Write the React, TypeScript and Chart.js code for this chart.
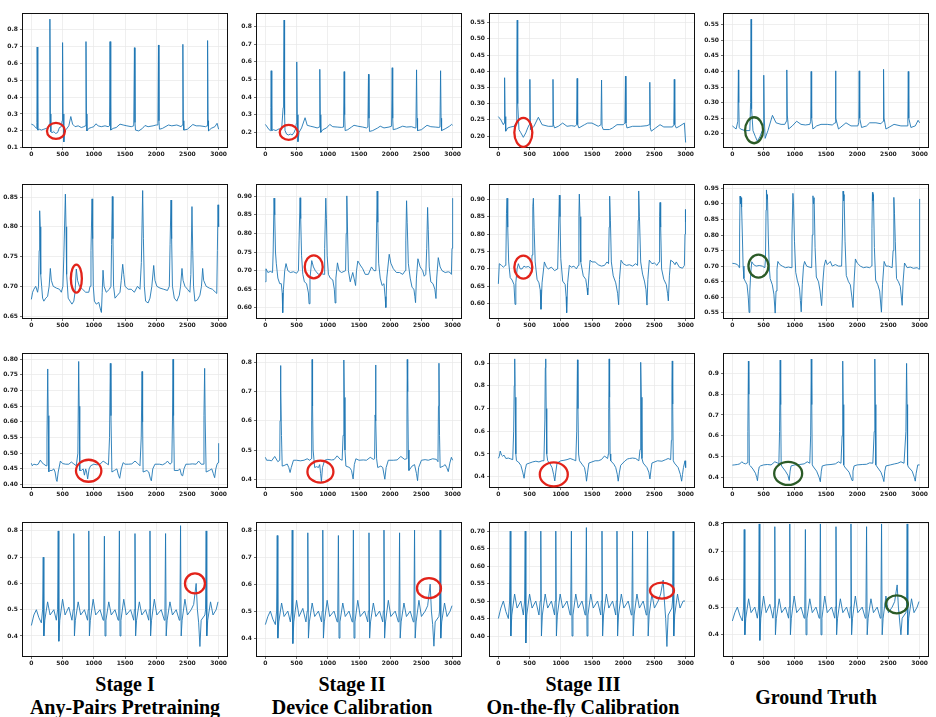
import React, { useEffect, useRef } from 'react';
import { Chart, registerables } from 'chart.js';
Chart.register(...registerables);

// ---------- tick labels ----------
const X_TICKS = ['0', '500', '1000', '1500', '2000', '2500', '3000'];
const YT_R1C1 = ['0.1', '0.2', '0.3', '0.4', '0.5', '0.6', '0.7', '0.8'];
const YT_R1C2 = ['0.2', '0.3', '0.4', '0.5', '0.6', '0.7', '0.8'];
const YT_R1C3 = ['0.20', '0.25', '0.30', '0.35', '0.40', '0.45', '0.50', '0.55'];
const YT_R1C4 = ['0.20', '0.25', '0.30', '0.35', '0.40', '0.45', '0.50', '0.55'];
const YT_R2C1 = ['0.65', '0.70', '0.75', '0.80', '0.85'];
const YT_R2C2 = ['0.60', '0.65', '0.70', '0.75', '0.80', '0.85', '0.90'];
const YT_R2C3 = ['0.60', '0.65', '0.70', '0.75', '0.80', '0.85', '0.90'];
const YT_R2C4 = ['0.55', '0.60', '0.65', '0.70', '0.75', '0.80', '0.85', '0.90', '0.95'];
const YT_R3C1 = ['0.40', '0.45', '0.50', '0.55', '0.60', '0.65', '0.70', '0.75', '0.80'];
const YT_R3C2 = ['0.4', '0.5', '0.6', '0.7', '0.8'];
const YT_R3C3 = ['0.4', '0.5', '0.6', '0.7', '0.8', '0.9'];
const YT_R3C4 = ['0.4', '0.5', '0.6', '0.7', '0.8', '0.9'];
const YT_R4C1 = ['0.4', '0.5', '0.6', '0.7', '0.8'];
const YT_R4C2 = ['0.4', '0.5', '0.6', '0.7', '0.8'];
const YT_R4C3 = ['0.40', '0.45', '0.50', '0.55', '0.60', '0.65', '0.70'];
const YT_R4C4 = ['0.4', '0.5', '0.6', '0.7', '0.8'];

// ---------- y ranges [min, max] ----------
const Y_RANGE = [
  [0.099, 0.897], [0.111, 0.878], [0.163, 0.58], [0.154, 0.588],
  [0.645, 0.872], [0.570, 0.933], [0.556, 0.944], [0.530, 0.964],
  [0.389, 0.82], [0.370, 0.832], [0.350, 0.945], [0.349, 0.998],
  [0.32, 0.834], [0.33, 0.83], [0.34, 0.726], [0.32, 0.807],
];

// ---------- row 1 ----------
const R1C1_X = [0,30,60,80,88,93,100,106,130,160,200,240,270,288,297,305,312,330,360,390,420,450,480,493,500,508,520,535,560,600,632,660,700,750,800,840,865,875,883,890,920,960,1000,1034,1070,1120,1180,1230,1252,1260,1268,1275,1310,1360,1420,1470,1530,1600,1640,1651,1660,1668,1720,1780,1820,1870,1950,2000,2027,2036,2044,2052,2100,2196,2250,2330,2400,2418,2427,2435,2442,2500,2587,2640,2700,2790,2814,2823,2831,2838,2880,2940,2975,3000];
const R1C1_Y = [0.24,0.235,0.225,0.215,0.25,0.696,0.30,0.205,0.21,0.205,0.21,0.215,0.215,0.24,0.861,0.30,0.195,0.19,0.195,0.185,0.19,0.22,0.225,0.26,0.722,0.30,0.135,0.20,0.21,0.23,0.285,0.24,0.225,0.23,0.22,0.225,0.23,0.728,0.30,0.20,0.215,0.22,0.225,0.242,0.23,0.225,0.23,0.225,0.23,0.728,0.30,0.205,0.215,0.22,0.24,0.235,0.23,0.225,0.23,0.692,0.25,0.205,0.20,0.215,0.232,0.225,0.23,0.235,0.235,0.708,0.26,0.21,0.215,0.235,0.23,0.235,0.225,0.235,0.712,0.26,0.205,0.21,0.238,0.23,0.23,0.225,0.23,0.734,0.26,0.20,0.215,0.225,0.245,0.21];

const R1C2_X = [0,30,60,80,88,93,100,106,130,170,220,260,285,292,300,308,315,340,370,400,430,460,485,495,503,511,522,540,580,636,670,720,780,830,862,872,880,888,920,980,1032,1080,1150,1220,1252,1262,1270,1278,1320,1380,1420,1480,1560,1620,1642,1652,1660,1668,1720,1800,1840,1900,1980,2022,2032,2040,2048,2100,2200,2260,2340,2400,2412,2422,2430,2438,2500,2590,2650,2720,2780,2797,2807,2815,2823,2880,2950,2985,3000];
const R1C2_Y = [0.245,0.23,0.215,0.21,0.34,0.55,0.30,0.21,0.215,0.21,0.22,0.215,0.34,0.50,0.838,0.30,0.21,0.19,0.185,0.19,0.185,0.20,0.22,0.25,0.60,0.30,0.147,0.20,0.225,0.283,0.24,0.235,0.23,0.225,0.23,0.558,0.30,0.20,0.215,0.225,0.245,0.232,0.23,0.228,0.23,0.545,0.30,0.21,0.215,0.23,0.24,0.235,0.23,0.225,0.23,0.53,0.28,0.205,0.21,0.225,0.235,0.225,0.23,0.235,0.567,0.28,0.215,0.22,0.235,0.23,0.232,0.225,0.23,0.555,0.28,0.21,0.215,0.24,0.232,0.23,0.228,0.23,0.55,0.28,0.21,0.22,0.235,0.245,0.24];

const R1C3_X = [0,40,80,92,100,108,118,150,200,250,285,295,302,310,330,360,400,440,470,495,505,512,520,570,641,700,800,865,875,883,900,960,1030,1100,1170,1230,1252,1262,1270,1290,1380,1430,1500,1600,1644,1653,1661,1680,1780,1830,1900,2000,2027,2036,2044,2060,2150,2280,2380,2417,2426,2434,2450,2520,2590,2650,2790,2810,2818,2826,2850,2900,2980,3000];
const R1C3_Y = [0.26,0.25,0.235,0.24,0.38,0.26,0.215,0.225,0.228,0.23,0.24,0.40,0.558,0.30,0.22,0.21,0.196,0.21,0.225,0.235,0.375,0.24,0.22,0.23,0.258,0.235,0.23,0.23,0.375,0.235,0.225,0.23,0.24,0.23,0.232,0.23,0.235,0.378,0.235,0.225,0.235,0.24,0.24,0.23,0.235,0.373,0.23,0.22,0.22,0.225,0.235,0.235,0.24,0.385,0.24,0.225,0.23,0.23,0.232,0.235,0.366,0.225,0.215,0.225,0.235,0.228,0.228,0.235,0.375,0.235,0.225,0.23,0.24,0.18];

const R1C4_X = [0,30,60,88,97,102,110,130,200,280,292,300,308,330,370,400,440,480,495,503,511,525,570,642,700,780,840,865,872,880,900,960,1030,1100,1170,1240,1255,1262,1270,1290,1350,1420,1520,1600,1645,1652,1660,1700,1820,1900,2010,2025,2032,2040,2070,2150,2200,2300,2380,2415,2422,2430,2460,2590,2700,2800,2811,2818,2826,2860,2930,2975,3000];
const R1C4_Y = [0.225,0.22,0.215,0.24,0.405,0.30,0.22,0.215,0.21,0.21,0.30,0.568,0.28,0.21,0.19,0.176,0.19,0.21,0.23,0.388,0.25,0.185,0.21,0.259,0.235,0.23,0.23,0.24,0.405,0.26,0.215,0.225,0.24,0.23,0.228,0.23,0.24,0.40,0.25,0.215,0.225,0.23,0.23,0.228,0.235,0.402,0.25,0.215,0.235,0.225,0.225,0.235,0.402,0.25,0.22,0.225,0.235,0.235,0.232,0.24,0.407,0.25,0.215,0.23,0.225,0.225,0.232,0.40,0.25,0.22,0.225,0.243,0.235];

// ---------- row 2 ----------
const R2C1_X = [0,20,40,70,100,115,125,133,142,150,165,180,200,230,260,285,304,320,350,400,450,480,505,520,545,555,565,590,620,650,680,700,720,740,770,820,870,920,940,955,972,982,992,1010,1040,1080,1110,1122,1135,1148,1165,1200,1250,1275,1285,1297,1307,1317,1340,1380,1420,1440,1463,1480,1500,1550,1600,1650,1700,1740,1762,1783,1795,1810,1830,1870,1900,1930,1960,1980,2010,2060,2120,2180,2210,2222,2237,2247,2260,2290,2330,2370,2390,2413,2430,2460,2500,2540,2555,2573,2585,2598,2620,2660,2700,2725,2744,2760,2800,2850,2900,2950,2970,2980,2990,3000];
const R2C1_Y = [0.678,0.69,0.695,0.70,0.69,0.70,0.76,0.827,0.80,0.72,0.70,0.68,0.675,0.68,0.683,0.70,0.73,0.71,0.70,0.697,0.695,0.69,0.70,0.75,0.855,0.80,0.72,0.68,0.675,0.67,0.675,0.69,0.729,0.71,0.70,0.695,0.69,0.69,0.70,0.76,0.847,0.78,0.70,0.675,0.67,0.673,0.66,0.656,0.69,0.727,0.70,0.69,0.695,0.70,0.77,0.851,0.78,0.70,0.68,0.685,0.69,0.71,0.737,0.72,0.70,0.695,0.695,0.69,0.70,0.695,0.74,0.861,0.78,0.70,0.675,0.672,0.68,0.70,0.735,0.71,0.70,0.697,0.695,0.693,0.70,0.77,0.845,0.78,0.70,0.68,0.675,0.685,0.70,0.73,0.71,0.70,0.695,0.69,0.72,0.834,0.76,0.70,0.675,0.677,0.685,0.70,0.73,0.71,0.70,0.697,0.695,0.69,0.688,0.76,0.837,0.80];

const R2C2_X = [0,10,40,80,115,125,139,150,162,175,200,230,255,270,278,290,310,331,360,400,450,500,530,540,556,566,580,600,625,660,690,700,715,743,770,800,850,900,940,950,968,978,990,1010,1040,1080,1105,1118,1130,1155,1180,1220,1260,1285,1295,1305,1315,1330,1360,1400,1420,1445,1460,1481,1520,1560,1600,1650,1700,1740,1770,1780,1791,1801,1815,1840,1870,1900,1918,1930,1945,1984,2010,2050,2100,2150,2200,2240,2250,2262,2272,2290,2320,2350,2380,2395,2406,2420,2444,2480,2520,2545,2570,2585,2599,2610,2625,2650,2685,2715,2733,2745,2770,2800,2830,2880,2930,2960,2980,2990,3000];
const R2C2_Y = [0.67,0.705,0.695,0.698,0.695,0.75,0.895,0.85,0.75,0.72,0.68,0.665,0.665,0.64,0.587,0.65,0.70,0.719,0.70,0.695,0.697,0.693,0.70,0.78,0.896,0.84,0.74,0.69,0.67,0.665,0.64,0.611,0.68,0.727,0.71,0.70,0.69,0.692,0.69,0.76,0.895,0.84,0.74,0.69,0.68,0.675,0.65,0.613,0.68,0.721,0.70,0.695,0.698,0.70,0.80,0.901,0.82,0.70,0.67,0.695,0.68,0.66,0.70,0.726,0.715,0.705,0.69,0.69,0.71,0.70,0.70,0.80,0.914,0.83,0.72,0.68,0.66,0.665,0.63,0.601,0.68,0.744,0.72,0.705,0.695,0.695,0.69,0.70,0.78,0.888,0.83,0.72,0.68,0.655,0.65,0.63,0.614,0.68,0.732,0.71,0.70,0.685,0.69,0.76,0.87,0.81,0.71,0.67,0.665,0.65,0.625,0.68,0.735,0.71,0.70,0.695,0.697,0.695,0.69,0.76,0.895];

const R2C3_X = [0,15,50,80,110,120,130,139,150,165,190,220,250,267,280,300,320,350,380,410,440,480,530,540,552,561,572,590,620,650,670,683,700,737,770,800,850,900,950,960,977,987,1000,1030,1070,1085,1094,1110,1137,1170,1210,1250,1280,1290,1297,1308,1320,1360,1400,1420,1431,1450,1468,1500,1550,1600,1650,1700,1740,1765,1775,1783,1795,1810,1840,1880,1910,1927,1940,1965,2000,2050,2100,2150,2200,2230,2240,2248,2260,2280,2310,2340,2365,2381,2395,2418,2460,2500,2540,2575,2583,2590,2600,2615,2650,2690,2710,2723,2740,2760,2800,2830,2850,2900,2950,2980,2990,2995,3000];
const R2C3_Y = [0.657,0.715,0.71,0.705,0.71,0.72,0.86,0.903,0.82,0.72,0.675,0.668,0.655,0.598,0.66,0.70,0.715,0.70,0.70,0.708,0.705,0.707,0.70,0.74,0.88,0.903,0.82,0.72,0.67,0.66,0.64,0.584,0.66,0.72,0.705,0.70,0.705,0.695,0.70,0.78,0.912,0.85,0.73,0.665,0.655,0.62,0.574,0.66,0.71,0.705,0.708,0.70,0.71,0.85,0.915,0.85,0.72,0.68,0.67,0.645,0.625,0.68,0.725,0.72,0.72,0.712,0.708,0.71,0.72,0.715,0.82,0.909,0.84,0.72,0.68,0.66,0.63,0.597,0.67,0.725,0.715,0.71,0.712,0.708,0.715,0.71,0.84,0.924,0.85,0.72,0.685,0.665,0.64,0.596,0.67,0.725,0.715,0.717,0.71,0.72,0.85,0.891,0.82,0.70,0.67,0.655,0.63,0.608,0.68,0.725,0.72,0.712,0.72,0.705,0.702,0.71,0.80,0.871,0.835];

const R2C4_X = [0,40,80,100,110,116,123,132,140,148,160,172,185,210,235,255,268,280,295,311,340,380,430,480,520,530,540,546,555,562,575,590,605,640,665,686,700,715,729,760,800,850,900,940,955,970,980,995,1015,1040,1075,1090,1103,1120,1140,1157,1190,1230,1270,1280,1291,1300,1310,1325,1345,1380,1405,1430,1450,1470,1494,1520,1569,1600,1650,1700,1750,1762,1773,1782,1790,1805,1825,1860,1890,1915,1933,1950,1971,2000,2050,2100,2150,2200,2230,2236,2244,2252,2260,2275,2295,2330,2360,2388,2405,2431,2460,2500,2560,2575,2587,2597,2610,2630,2660,2690,2720,2735,2758,2800,2850,2900,2960,2990,3000];
const R2C4_Y = [0.709,0.708,0.705,0.70,0.695,0.80,0.925,0.90,0.92,0.89,0.80,0.70,0.66,0.65,0.64,0.60,0.551,0.62,0.68,0.714,0.705,0.70,0.702,0.70,0.695,0.72,0.88,0.945,0.915,0.93,0.80,0.70,0.66,0.64,0.61,0.549,0.62,0.69,0.715,0.705,0.70,0.695,0.697,0.695,0.80,0.934,0.90,0.78,0.68,0.655,0.63,0.59,0.553,0.64,0.70,0.715,0.70,0.697,0.695,0.80,0.926,0.90,0.92,0.76,0.665,0.65,0.62,0.573,0.65,0.70,0.72,0.705,0.715,0.70,0.705,0.70,0.70,0.80,0.941,0.91,0.93,0.78,0.67,0.65,0.64,0.60,0.567,0.65,0.723,0.71,0.70,0.695,0.697,0.695,0.70,0.82,0.937,0.91,0.93,0.76,0.655,0.64,0.62,0.552,0.64,0.715,0.70,0.70,0.695,0.75,0.921,0.87,0.78,0.66,0.65,0.635,0.574,0.65,0.71,0.695,0.697,0.693,0.695,0.69,0.916];

// ---------- row 3 ----------
const R3C1_X = [0,15,40,80,110,144,170,200,235,250,262,270,280,300,330,360,380,400,411,430,465,500,550,600,640,680,720,745,758,766,775,800,830,850,870,885,902,925,950,1000,1050,1100,1150,1200,1235,1252,1265,1275,1290,1330,1370,1395,1415,1440,1470,1500,1560,1610,1660,1700,1740,1760,1773,1782,1790,1850,1880,1905,1922,1945,1980,2050,2100,2150,2180,2220,2250,2260,2269,2278,2290,2350,2380,2405,2424,2445,2475,2530,2580,2640,2680,2720,2755,2765,2776,2785,2800,2850,2890,2915,2936,2955,2975,2990,3000];
const R3C1_Y = [0.468,0.46,0.465,0.463,0.465,0.478,0.47,0.465,0.46,0.55,0.769,0.62,0.441,0.445,0.445,0.45,0.44,0.415,0.41,0.44,0.475,0.467,0.465,0.465,0.472,0.466,0.46,0.50,0.793,0.65,0.445,0.445,0.45,0.43,0.45,0.44,0.418,0.45,0.46,0.465,0.463,0.465,0.475,0.468,0.463,0.55,0.787,0.62,0.44,0.445,0.45,0.43,0.42,0.45,0.47,0.465,0.465,0.466,0.475,0.468,0.46,0.55,0.761,0.60,0.44,0.445,0.44,0.42,0.412,0.45,0.465,0.465,0.463,0.468,0.475,0.465,0.47,0.60,0.80,0.62,0.445,0.445,0.45,0.43,0.428,0.45,0.465,0.465,0.466,0.465,0.475,0.465,0.465,0.62,0.771,0.60,0.44,0.445,0.45,0.435,0.422,0.45,0.465,0.47,0.532];

const R3C2_X = [0,20,60,100,150,200,230,235,241,250,258,270,300,330,350,375,396,415,450,500,560,620,670,710,735,742,749,756,765,790,820,850,870,885,898,915,950,1000,1060,1100,1150,1200,1230,1245,1257,1265,1275,1290,1350,1380,1406,1425,1450,1500,1570,1620,1680,1730,1750,1758,1765,1772,1782,1800,1850,1880,1914,1935,1970,2050,2110,2170,2230,2262,2268,2273,2280,2290,2300,2350,2390,2420,2438,2455,2500,2560,2610,2680,2740,2765,2773,2781,2790,2800,2850,2880,2905,2930,2955,2980,3000];
const R3C2_Y = [0.475,0.465,0.465,0.463,0.478,0.46,0.465,0.60,0.789,0.70,0.55,0.445,0.447,0.45,0.452,0.44,0.423,0.44,0.465,0.465,0.463,0.465,0.47,0.465,0.47,0.60,0.81,0.65,0.50,0.44,0.443,0.44,0.45,0.42,0.392,0.44,0.465,0.468,0.466,0.467,0.48,0.468,0.465,0.55,0.808,0.68,0.50,0.445,0.44,0.43,0.401,0.45,0.47,0.465,0.466,0.465,0.475,0.468,0.47,0.62,0.791,0.60,0.47,0.44,0.445,0.44,0.40,0.44,0.465,0.465,0.466,0.478,0.468,0.47,0.62,0.81,0.70,0.50,0.43,0.445,0.45,0.42,0.395,0.44,0.465,0.467,0.465,0.47,0.468,0.46,0.65,0.797,0.55,0.44,0.445,0.45,0.44,0.426,0.455,0.475,0.465];

const R3C3_X = [0,15,30,50,70,90,120,160,200,230,245,254,262,270,280,290,320,360,390,412,430,450,500,550,600,650,700,730,745,752,759,766,775,790,820,860,885,904,920,940,1000,1050,1100,1150,1200,1240,1255,1267,1275,1285,1300,1340,1380,1400,1412,1430,1450,1500,1550,1600,1650,1700,1750,1762,1768,1775,1782,1790,1800,1850,1880,1905,1920,1940,1960,2030,2070,2100,2150,2200,2250,2270,2277,2283,2290,2300,2320,2380,2410,2428,2445,2460,2550,2620,2680,2720,2760,2772,2780,2786,2793,2802,2820,2880,2915,2936,2950,2965,2990,3000];
const R3C3_Y = [0.481,0.49,0.513,0.495,0.49,0.495,0.48,0.482,0.478,0.475,0.60,0.80,0.919,0.75,0.50,0.47,0.465,0.45,0.42,0.393,0.43,0.455,0.46,0.465,0.468,0.465,0.47,0.47,0.65,0.88,0.919,0.70,0.50,0.47,0.46,0.44,0.41,0.381,0.42,0.46,0.47,0.472,0.475,0.48,0.475,0.47,0.60,0.915,0.70,0.50,0.47,0.455,0.44,0.41,0.38,0.42,0.46,0.465,0.47,0.47,0.475,0.491,0.48,0.50,0.70,0.919,0.75,0.50,0.47,0.455,0.44,0.41,0.38,0.42,0.45,0.47,0.478,0.48,0.482,0.48,0.47,0.52,0.75,0.904,0.75,0.48,0.46,0.44,0.42,0.39,0.43,0.46,0.47,0.468,0.475,0.48,0.475,0.56,0.80,0.91,0.72,0.47,0.46,0.44,0.41,0.38,0.41,0.44,0.47,0.44];

const R3C4_X = [0,30,80,120,150,180,210,240,248,257,264,272,290,330,370,390,402,418,430,450,500,560,620,680,720,745,756,766,774,782,800,850,890,911,925,940,1000,1080,1150,1200,1240,1254,1264,1272,1280,1300,1350,1390,1409,1425,1440,1500,1580,1650,1700,1740,1758,1768,1776,1784,1800,1870,1900,1918,1932,1950,2000,2080,2150,2200,2250,2272,2282,2290,2298,2320,2380,2410,2427,2442,2460,2530,2600,2650,2700,2750,2780,2791,2799,2807,2820,2880,2915,2930,2945,2970,3000];
const R3C4_Y = [0.459,0.46,0.462,0.465,0.475,0.468,0.465,0.47,0.62,0.959,0.80,0.46,0.455,0.44,0.42,0.40,0.384,0.43,0.45,0.455,0.46,0.462,0.46,0.475,0.47,0.465,0.62,0.964,0.75,0.46,0.45,0.43,0.41,0.385,0.43,0.455,0.46,0.462,0.465,0.475,0.468,0.60,0.969,0.75,0.46,0.45,0.43,0.40,0.379,0.43,0.455,0.46,0.462,0.465,0.475,0.468,0.60,0.959,0.75,0.46,0.45,0.425,0.40,0.385,0.43,0.455,0.46,0.462,0.463,0.47,0.468,0.62,0.969,0.75,0.46,0.45,0.425,0.40,0.38,0.43,0.455,0.46,0.465,0.468,0.475,0.468,0.62,0.948,0.75,0.46,0.45,0.43,0.40,0.382,0.42,0.46,0.46];

// ---------- row 4 ----------
const R4C1_X = [0,40,80,120,160,180,190,200,215,260,300,360,400,420,430,440,455,500,540,600,650,670,680,690,705,750,790,850,900,910,920,930,945,990,1030,1100,1150,1160,1170,1180,1195,1240,1280,1340,1390,1400,1410,1420,1435,1480,1520,1590,1640,1650,1660,1670,1685,1730,1770,1830,1880,1890,1900,1910,1925,1970,2010,2080,2130,2140,2150,2160,2175,2220,2260,2320,2370,2380,2390,2400,2415,2460,2500,2560,2600,2640,2660,2680,2700,2720,2780,2790,2800,2810,2825,2870,2910,2960,2990,3000];
const R4C1_Y = [0.44,0.48,0.50,0.47,0.45,0.50,0.70,0.40,0.46,0.53,0.48,0.50,0.46,0.50,0.80,0.38,0.46,0.54,0.48,0.51,0.46,0.50,0.79,0.40,0.46,0.53,0.48,0.50,0.46,0.50,0.80,0.40,0.46,0.54,0.48,0.50,0.46,0.50,0.78,0.40,0.46,0.53,0.48,0.50,0.46,0.50,0.80,0.40,0.46,0.54,0.48,0.50,0.46,0.50,0.79,0.40,0.46,0.53,0.48,0.50,0.46,0.50,0.80,0.40,0.46,0.54,0.48,0.50,0.46,0.50,0.79,0.40,0.46,0.53,0.48,0.50,0.46,0.50,0.82,0.40,0.46,0.54,0.48,0.50,0.52,0.60,0.50,0.45,0.36,0.46,0.48,0.50,0.80,0.40,0.46,0.53,0.48,0.50,0.53,0.53];
const R4C2_X = R4C1_X;
const R4C2_Y = [0.45,0.48,0.50,0.47,0.45,0.50,0.78,0.40,0.46,0.53,0.48,0.50,0.46,0.50,0.80,0.38,0.46,0.54,0.48,0.51,0.46,0.50,0.79,0.40,0.46,0.53,0.48,0.50,0.46,0.50,0.80,0.40,0.46,0.54,0.48,0.50,0.46,0.50,0.78,0.40,0.46,0.53,0.48,0.50,0.46,0.50,0.80,0.40,0.46,0.54,0.48,0.50,0.46,0.50,0.79,0.40,0.46,0.53,0.48,0.50,0.46,0.50,0.80,0.40,0.46,0.54,0.48,0.50,0.46,0.50,0.79,0.40,0.46,0.53,0.48,0.50,0.46,0.50,0.80,0.40,0.46,0.54,0.48,0.50,0.52,0.60,0.50,0.45,0.37,0.46,0.48,0.50,0.80,0.40,0.46,0.53,0.48,0.50,0.52,0.52];
const R4C3_X = R4C1_X;
const R4C3_Y = [0.45,0.48,0.50,0.47,0.45,0.50,0.70,0.40,0.46,0.52,0.48,0.50,0.46,0.50,0.70,0.38,0.46,0.52,0.48,0.50,0.46,0.50,0.70,0.40,0.46,0.52,0.48,0.50,0.46,0.50,0.70,0.40,0.46,0.52,0.48,0.50,0.46,0.50,0.70,0.40,0.46,0.52,0.48,0.50,0.46,0.50,0.71,0.40,0.46,0.52,0.48,0.50,0.46,0.50,0.70,0.40,0.46,0.52,0.48,0.50,0.46,0.50,0.70,0.40,0.46,0.52,0.48,0.50,0.46,0.50,0.70,0.40,0.46,0.52,0.48,0.50,0.46,0.50,0.70,0.40,0.46,0.52,0.48,0.50,0.52,0.56,0.50,0.45,0.37,0.46,0.48,0.50,0.70,0.40,0.46,0.52,0.48,0.50,0.50,0.50];
const R4C4_X = R4C1_X;
const R4C4_Y = [0.45,0.48,0.50,0.47,0.45,0.50,0.78,0.40,0.46,0.53,0.48,0.50,0.46,0.50,0.80,0.38,0.46,0.54,0.48,0.51,0.46,0.50,0.79,0.40,0.46,0.53,0.48,0.50,0.46,0.50,0.80,0.40,0.46,0.54,0.48,0.50,0.46,0.50,0.78,0.40,0.46,0.53,0.48,0.50,0.46,0.50,0.80,0.40,0.46,0.54,0.48,0.50,0.46,0.50,0.79,0.40,0.46,0.53,0.48,0.50,0.46,0.50,0.80,0.40,0.46,0.54,0.48,0.50,0.46,0.50,0.79,0.40,0.46,0.53,0.48,0.50,0.46,0.50,0.80,0.40,0.46,0.54,0.48,0.50,0.52,0.58,0.50,0.45,0.40,0.46,0.48,0.50,0.80,0.40,0.46,0.53,0.48,0.50,0.52,0.52];

// ---------- annotation ellipses (centre in data units) ----------
const MARK_X = [394, 374, 400, 348, 721, 775, 400, 418, 918, 882, 888, 894, 2621, 2621, 2621, 2635];
const MARK_Y = [0.20, 0.20, 0.211, 0.211, 0.713, 0.71, 0.705, 0.70, 0.444, 0.426, 0.41, 0.419, 0.60, 0.585, 0.53, 0.51];
const MARK_RX = [9, 9, 9, 9, 5.5, 9, 9, 10, 12.7, 13, 14, 14, 10, 12, 12, 11];
const MARK_RY = [8, 7.5, 14.5, 13, 14, 11.5, 11.5, 11.5, 11, 11, 12, 11.5, 10, 10, 8, 9];

const STAGE_TITLES = [
  ['Stage I', 'Any-Pairs Pretraining'],
  ['Stage II', 'Device Calibration'],
  ['Stage III', 'On-the-fly Calibration'],
  ['Ground Truth'],
];

const SERIES_X = [R1C1_X, R1C2_X, R1C3_X, R1C4_X, R2C1_X, R2C2_X, R2C3_X, R2C4_X, R3C1_X, R3C2_X, R3C3_X, R3C4_X, R4C1_X, R4C2_X, R4C3_X, R4C4_X];
const SERIES_Y = [R1C1_Y, R1C2_Y, R1C3_Y, R1C4_Y, R2C1_Y, R2C2_Y, R2C3_Y, R2C4_Y, R3C1_Y, R3C2_Y, R3C3_Y, R3C4_Y, R4C1_Y, R4C2_Y, R4C3_Y, R4C4_Y];
const Y_TICKS = [YT_R1C1, YT_R1C2, YT_R1C3, YT_R1C4, YT_R2C1, YT_R2C2, YT_R2C3, YT_R2C4, YT_R3C1, YT_R3C2, YT_R3C3, YT_R3C4, YT_R4C1, YT_R4C2, YT_R4C3, YT_R4C4];

// ---------- layout ----------
const COL_LEFT = [22, 256, 489, 723];
const ROW_TOP = [13, 184, 353, 522];
const PLOT_W = 206;
const PLOT_H = 135;
const PAD_L = 30;
const PAD_T = 8;
const PAD_R = 6;
const PAD_B = 16;
const TITLE_CENTERS = [125, 352, 583, 816];

const framePlugin = {
  id: 'frameAndMark',
  afterDatasetsDraw(chart: any, _args: any, opts: any) {
    const { ctx, chartArea: a, scales } = chart;
    ctx.save();
    ctx.strokeStyle = '#111';
    ctx.lineWidth = 1;
    ctx.strokeRect(Math.round(a.left) + 0.5, Math.round(a.top) + 0.5, Math.round(a.right - a.left) - 1, Math.round(a.bottom - a.top) - 1);
    if (opts && opts.mark) {
      const m = opts.mark;
      const cx = scales.x.getPixelForValue(m.x);
      const cy = scales.y.getPixelForValue(m.y);
      ctx.beginPath();
      ctx.ellipse(cx, cy, m.rx, m.ry, 0, 0, Math.PI * 2);
      ctx.strokeStyle = m.color;
      ctx.lineWidth = 2.3;
      ctx.stroke();
    }
    ctx.restore();
  },
};

function Panel({ idx }: { idx: number }) {
  const ref = useRef<HTMLCanvasElement | null>(null);
  const row = Math.floor(idx / 4);
  const col = idx % 4;
  const W = PAD_L + PLOT_W + PAD_R;
  const H = PAD_T + PLOT_H + PAD_B;
  useEffect(() => {
    const xs = SERIES_X[idx];
    const ys = SERIES_Y[idx];
    const yt = Y_TICKS[idx];
    const dec = (yt[0].split('.')[1] || '').length;
    const tickFont = { family: 'DejaVu Sans', size: 6, weight: 'bold' as const };
    const chart = new Chart(ref.current as HTMLCanvasElement, {
      type: 'line',
      data: {
        datasets: [
          {
            data: xs.map((x, i) => ({ x, y: ys[i] })),
            borderColor: '#1f77b4',
            borderWidth: 0.9,
            pointRadius: 0,
            tension: 0,
            fill: false,
          },
        ],
      },
      options: {
        animation: false,
        responsive: false,
        events: [],
        layout: { padding: { left: 0, top: PAD_T, right: PAD_R, bottom: 0 } },
        plugins: {
          legend: { display: false },
          tooltip: { enabled: false },
          frameAndMark: {
            mark: {
              x: MARK_X[idx],
              y: MARK_Y[idx],
              rx: MARK_RX[idx],
              ry: MARK_RY[idx],
              color: col === 3 ? '#2b5b27' : '#e2231a',
            },
          },
        } as any,
        scales: {
          x: {
            type: 'linear',
            min: -150,
            max: 3150,
            afterBuildTicks: (axis: any) => {
              axis.ticks = X_TICKS.map((t) => ({ value: parseFloat(t) }));
            },
            afterFit: (axis: any) => {
              axis.height = PAD_B;
            },
            ticks: {
              font: tickFont,
              color: '#222',
              padding: 1,
              maxRotation: 0,
              autoSkip: false,
              callback: (v: any) => String(v),
            },
            grid: { color: '#e8e8e8', lineWidth: 0.7, tickLength: 2, tickColor: '#333', drawTicks: true },
            border: { display: false },
          },
          y: {
            type: 'linear',
            min: Y_RANGE[idx][0],
            max: Y_RANGE[idx][1],
            afterBuildTicks: (axis: any) => {
              axis.ticks = yt.map((t) => ({ value: parseFloat(t) }));
            },
            afterFit: (axis: any) => {
              axis.width = PAD_L;
            },
            ticks: {
              font: tickFont,
              color: '#222',
              padding: 2,
              autoSkip: false,
              callback: (v: any) => Number(v).toFixed(dec),
            },
            grid: { color: '#e8e8e8', lineWidth: 0.7, tickLength: 2, tickColor: '#333', drawTicks: true },
            border: { display: false },
          },
        },
      },
      plugins: [framePlugin],
    });
    return () => chart.destroy();
  }, [idx]);
  return (
    <canvas
      ref={ref}
      width={W}
      height={H}
      style={{ position: 'absolute', left: COL_LEFT[col] - PAD_L, top: ROW_TOP[row] - PAD_T, width: W, height: H }}
    />
  );
}

export default function App() {
  return (
    <div style={{ position: 'absolute', left: 0, top: 0, width: 936, height: 717, background: '#fff', overflow: 'hidden' }}>
      {SERIES_X.map((_, i) => (
        <Panel key={i} idx={i} />
      ))}
      {STAGE_TITLES.map((lines, c) => (
        <div
          key={c}
          style={{
            position: 'absolute',
            left: TITLE_CENTERS[c] - 150,
            width: 300,
            top: lines.length === 2 ? 673 : 685.5,
            textAlign: 'center',
            fontFamily: '"Liberation Serif", "Times New Roman", serif',
            fontWeight: 'bold',
            fontSize: 20,
            lineHeight: '23px',
            color: '#000',
          }}
        >
          {lines.map((l, k) => (
            <div key={k}>{l}</div>
          ))}
        </div>
      ))}
    </div>
  );
}
